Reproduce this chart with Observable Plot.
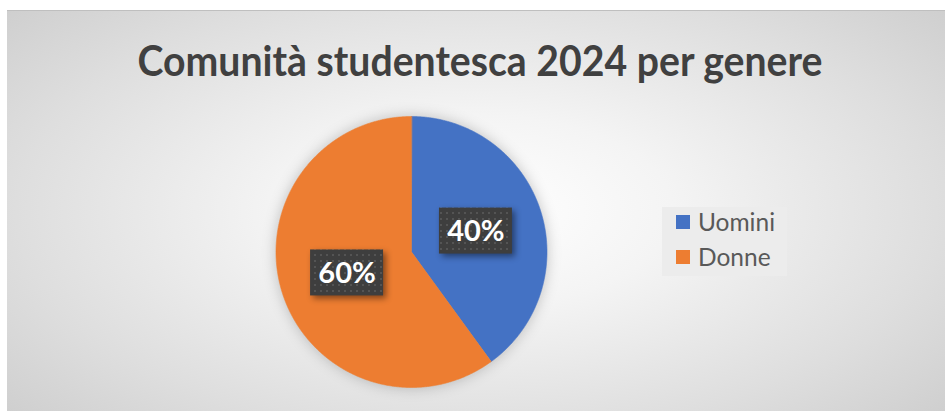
<!DOCTYPE html>
<html>
<head>
<meta charset="utf-8">
<script src="https://cdn.jsdelivr.net/npm/d3@7"></script>
<script src="https://cdn.jsdelivr.net/npm/@observablehq/plot@0.6"></script>
<style>
  html, body { margin: 0; padding: 0; background: #ffffff; width: 945px; height: 411px; overflow: hidden; }
  #bg {
    position: absolute; left: 7px; top: 10px; width: 938px; height: 401px; box-sizing: border-box;
    border-top: 1px solid #bfbfbf;
    background: radial-gradient(ellipse 70% 80% at 50% 50%, #ffffff 0%, #f4f4f4 30%, #dedede 70%, #cccccc 100%);
  }
  #chart { position: absolute; left: 0; top: 0; }
  #legend {
    position: absolute; left: 662px; top: 207px; width: 125px; height: 69px; box-sizing: border-box;
    background: #ececec; padding: 0 0 0 14px; overflow: hidden;
  }
  #legend * { font-family: Lato, sans-serif !important; font-size: 24.5px !important; color: #595959 !important; }
  #legend > div { margin: -3px 0 0 0 !important; }
  #legend div:has(> svg) { display: flex !important; align-items: center !important; height: 35px !important; padding: 0 !important; margin: 0 !important; }
  #legend svg { margin-right: 8px !important; width: 14px !important; height: 14px !important; flex: none; }
</style>
</head>
<body>
<svg width="0" height="0" style="position:absolute">
  <defs>
    <pattern id="dots" width="6" height="6" patternUnits="userSpaceOnUse">
      <rect width="6" height="6" fill="#3e3e3e"></rect>
      <rect x="2" y="2" width="2" height="2" fill="#545454"></rect>
    </pattern>
  </defs>
</svg>
<div id="bg"></div>
<div id="chart"></div>
<div id="legend"></div>
<script>
const title = "Comunità studentesca 2024 per genere";
const categories = ["Uomini", "Donne"];
const values = [40, 60];
const labels = ["40%", "60%"];
const colors = ["#4472C4", "#ED7D31"];

// pie geometry (unit circle, data space)
const cx = 411, cy = 251.5, R = 135.5;
const arcs = d3.pie().sort(null).startAngle(0)(values);
const slicePts = [];
arcs.forEach((a, i) => {
  slicePts.push({key: categories[i], x: 0, y: 0});
  const n = Math.ceil((a.endAngle - a.startAngle) / 0.005);
  for (let k = 0; k <= n; k++) {
    const t = a.startAngle + (a.endAngle - a.startAngle) * k / n;
    slicePts.push({key: categories[i], x: Math.sin(t), y: Math.cos(t)});
  }
});
const boxW = 73 / R, boxH = 46 / R;
const labelData = arcs.map((a, i) => {
  const m = (a.startAngle + a.endAngle) / 2;
  const lx = 0.5 * Math.sin(m), ly = 0.5 * Math.cos(m);
  return {key: categories[i], label: labels[i], x: lx, y: ly,
          x1: lx - boxW / 2, x2: lx + boxW / 2, y1: ly - boxH / 2, y2: ly + boxH / 2};
});

const plot = Plot.plot({
  width: 945, height: 411, margin: 0,
  style: {background: "transparent", overflow: "visible"},
  x: {domain: [-1, 1], range: [cx - R, cx + R], axis: null},
  y: {domain: [-1, 1], range: [cy + R, cy - R], axis: null},
  color: {domain: categories, range: colors},
  marks: [
    Plot.line(slicePts, {x: "x", y: "y", z: "key", fill: "key", stroke: "key", strokeWidth: 0.6, curve: "linear-closed"}),
    Plot.rect(labelData, {x1: "x1", x2: "x2", y1: "y1", y2: "y2", fill: "url(#dots)"}),
    Plot.text(labelData, {x: "x", y: "y", text: "label", fill: "white", fontSize: 29, fontWeight: 700, fontFamily: "Lato", dy: 1}),
    Plot.text([title], {frameAnchor: "top", text: d => d, dx: 7, dy: 75, lineAnchor: "bottom", fontSize: 42, fontWeight: 700, fill: "#404040", fontFamily: "Lato"})
  ]
});
document.getElementById("chart").appendChild(plot);

const svg = d3.select(plot);
svg.selectAll('g[aria-label="line"]').style("filter", "drop-shadow(0px 0px 7px rgba(0,0,0,0.22))");
svg.selectAll('g[aria-label="rect"]').style("filter", "drop-shadow(3px 3px 3px rgba(0,0,0,0.45))");
const texts = svg.selectAll('g[aria-label="text"]').nodes();
const tnode = d3.select(texts[texts.length - 1]).select("text");
tnode.attr("textLength", 685).attr("lengthAdjust", "spacingAndGlyphs");

const legend = Plot.legend({color: {domain: categories, range: colors}, legend: "swatches", columns: 1, swatchSize: 14});
document.getElementById("legend").appendChild(legend);
</script>
</body>
</html>
